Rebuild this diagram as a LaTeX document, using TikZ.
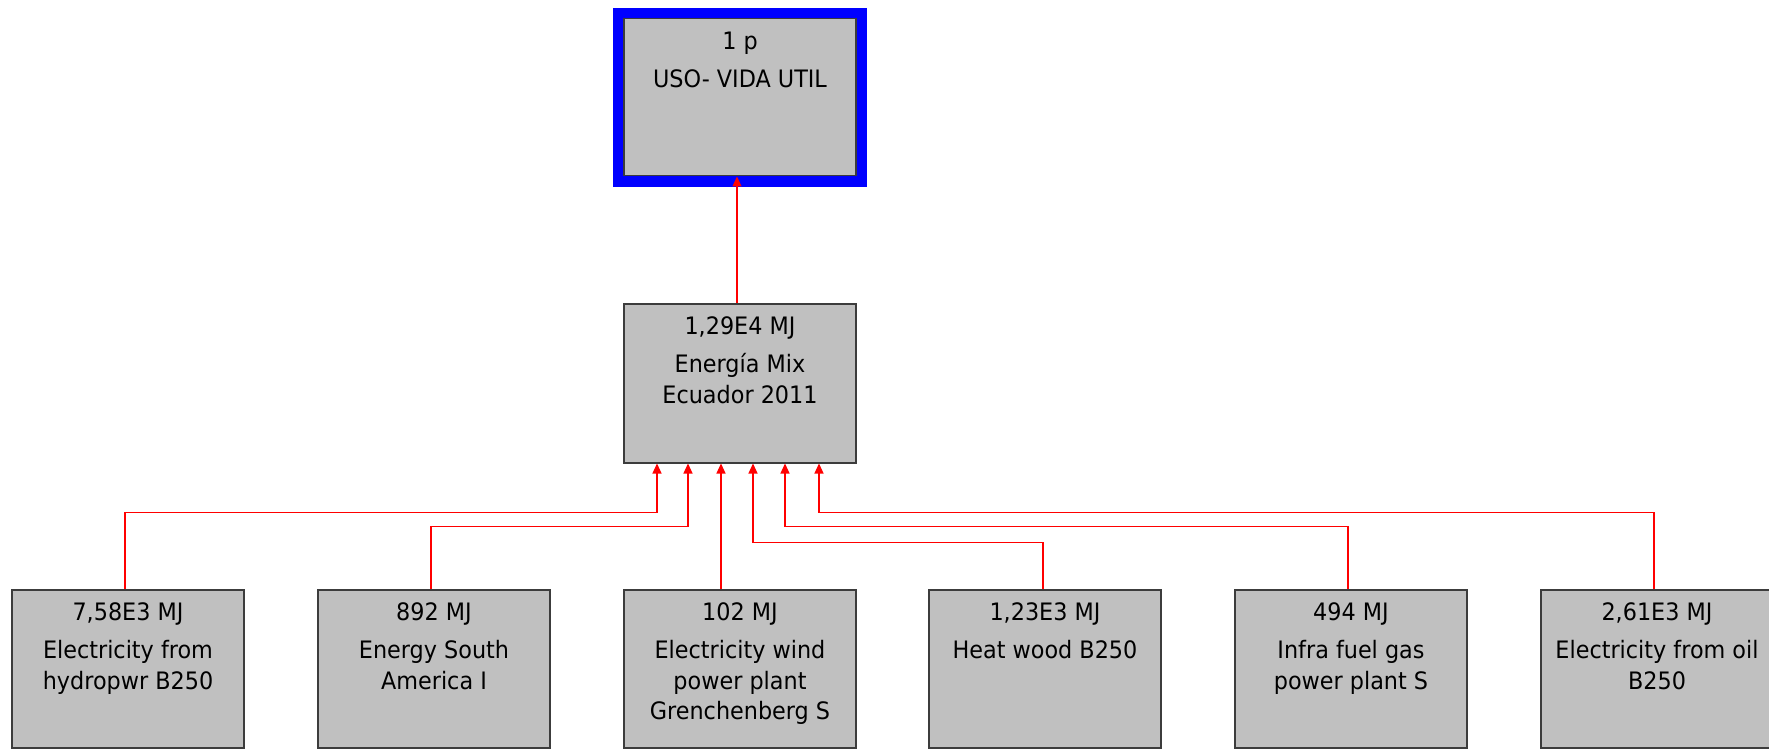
\documentclass[tikz,border=0pt]{standalone}
\usepackage{fontspec}
\setmainfont{DejaVu Sans}[FakeStretch=0.93]
\usetikzlibrary{arrows.meta}
\definecolor{grisbox}{HTML}{C0C0C0}
\definecolor{bordebox}{HTML}{3C3C3C}
\definecolor{azulmeta}{HTML}{0000FF}
\definecolor{rojoflujo}{HTML}{FF0000}
\newcommand{\contenido}[2][79pt]{\parbox[c][#1][t]{116pt}{\centering\rule{0pt}{15.5pt}#2}}

\begin{document}
\begin{tikzpicture}[x=0.5pt, y=-0.5pt,
    caja/.style={draw=bordebox, line width=0.75pt, fill=grisbox, inner sep=0pt, anchor=north,
      font=\fontsize{12}{15.25}\selectfont},
    meta/.style={caja, preaction={draw=azulmeta, line width=11pt}},
    flujo/.style={draw=rojoflujo, line width=0.6pt, -{Triangle[length=5pt,width=4.5pt]}}]
        \useasboundingbox (0,0) rectangle (1769,749);
        \node[meta] (uso) at (740,18) {\contenido[78.5pt]{1 p\\[3.75pt]USO- VIDA UTIL}};
        \node[caja] (mix) at (740,303) {\contenido[79.5pt]{1,29E4 MJ\\[3.75pt]Energía Mix\\Ecuador 2011}};
        \node[caja] (hidro) at (128,589) {\contenido{7,58E3 MJ\\[3.75pt]Electricity from\\hydropwr B250}};
        \node[caja] (sudamerica) at (434,589) {\contenido{892 MJ\\[3.75pt]Energy South\\America I}};
        \node[caja] (eolica) at (740,589) {\contenido{102 MJ\\[3.75pt]Electricity wind\\power plant\\Grenchenberg S}};
        \node[caja] (lena) at (1045,589) {\contenido{1,23E3 MJ\\[3.75pt]Heat wood B250}};
        \node[caja] (gas) at (1351,589) {\contenido{494 MJ\\[3.75pt]Infra fuel gas\\power plant S}};
        \node[caja] (petroleo) at (1657,589) {\contenido{2,61E3 MJ\\[3.75pt]Electricity from oil\\B250}};
        \draw[flujo] ([xshift=-1.5pt]mix.north) -- ([xshift=-1.5pt]uso.south);
        \draw[flujo] ([xshift=-1.5pt]hidro.north) |- ([xshift=-41.5pt,yshift=-24.5pt]mix.south) -- ([xshift=-41.5pt]mix.south);
        \draw[flujo] ([xshift=-1.5pt]sudamerica.north) |- ([xshift=-26pt,yshift=-31.5pt]mix.south) -- ([xshift=-26pt]mix.south);
        \draw[flujo] ([xshift=-9.5pt]eolica.north) -- ([xshift=-9.5pt]mix.south);
        \draw[flujo] ([xshift=-1pt]lena.north) |- ([xshift=6.5pt,yshift=-39.5pt]mix.south) -- ([xshift=6.5pt]mix.south);
        \draw[flujo] ([xshift=-1.5pt]gas.north) |- ([xshift=22.5pt,yshift=-31.5pt]mix.south) -- ([xshift=22.5pt]mix.south);
        \draw[flujo] ([xshift=-1.5pt]petroleo.north) |- ([xshift=39.5pt,yshift=-24.5pt]mix.south) -- ([xshift=39.5pt]mix.south);
      \end{tikzpicture}
\end{document}
